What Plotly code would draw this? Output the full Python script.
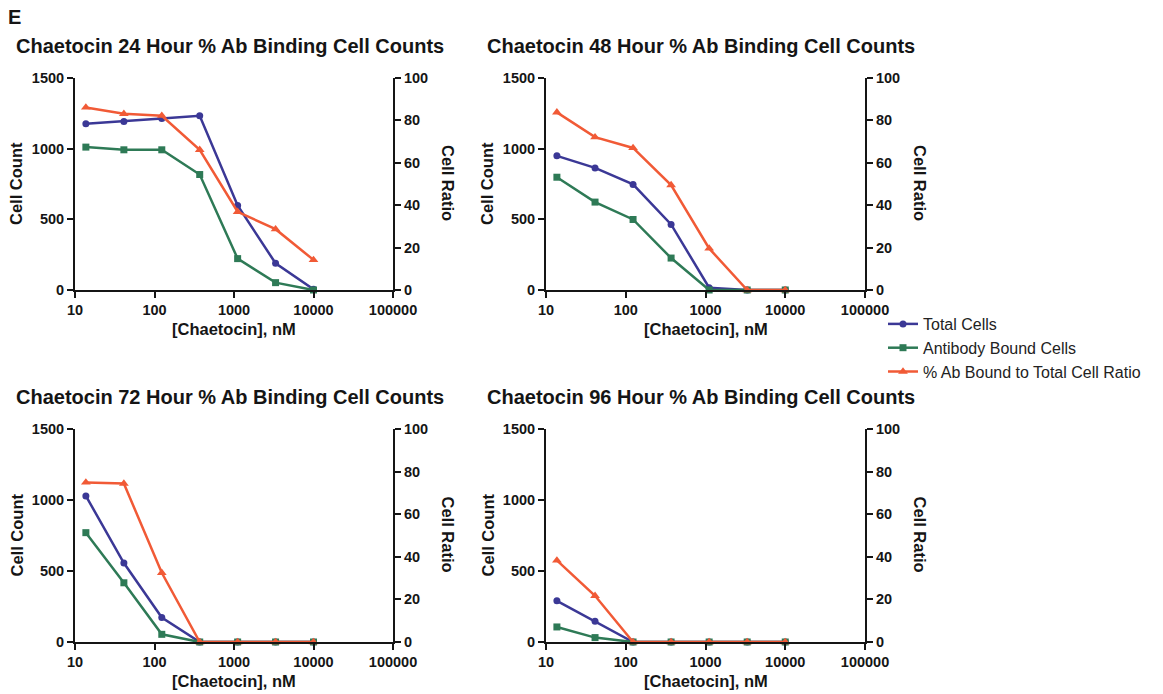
import plotly.graph_objects as go

# Chaetocin concentrations (nM), 3-fold dilution series from 10 µM
conc = [13.7, 41.2, 123.5, 370.4, 1111, 3333, 10000]

# Cell counts and % Ab-bound ratio for each time point
total_24 = [1176, 1193, 1214, 1233, 598, 189, 5]
ab_24 = [1011, 992, 992, 817, 222, 52, 0]
ratio_24 = [86.1, 83.1, 82.2, 66.1, 36.9, 28.7, 14.2]

total_48 = [949, 864, 747, 464, 16, 0, 0]
ab_48 = [798, 622, 499, 226, 0, 0, 0]
ratio_48 = [83.8, 72.1, 67.0, 49.5, 19.6, 0, 0]

total_72 = [1029, 556, 172, 0, 0, 0, 0]
ab_72 = [770, 417, 54, 0, 0, 0, 0]
ratio_72 = [74.9, 74.4, 32.5, 0, 0, 0, 0]

total_96 = [290, 146, 0, 0, 0, 0, 0]
ab_96 = [106, 31, 0, 0, 0, 0, 0]
ratio_96 = [38.3, 21.7, 0, 0, 0, 0, 0]

panel_titles = [
    "Chaetocin 24 Hour % Ab Binding Cell Counts",
    "Chaetocin 48 Hour % Ab Binding Cell Counts",
    "Chaetocin 72 Hour % Ab Binding Cell Counts",
    "Chaetocin 96 Hour % Ab Binding Cell Counts",
]
series_names = ["Total Cells", "Antibody Bound Cells", "% Ab Bound to Total Cell Ratio"]
count_ticks = [0, 500, 1000, 1500]
ratio_ticks = [0, 20, 40, 60, 80, 100]
x_ticks = [10, 100, 1000, 10000, 100000]
x_ticklabels = ["10", "100", "1000", "10000", "100000"]

panels = [
    (total_24, ab_24, ratio_24),
    (total_48, ab_48, ratio_48),
    (total_72, ab_72, ratio_72),
    (total_96, ab_96, ratio_96),
]

W, H = 1163, 694
BLUE = "#3b3896"
GREEN = "#2e7a56"
RED = "#f15a36"
INK = "#151515"
FONT = "Liberation Sans"

# pixel geometry of each plot box: (left, right, top, bottom)
boxes = [
    (75, 393, 78, 290),
    (546, 865, 78, 290),
    (75, 393, 429, 642),
    (546, 865, 429, 642),
]

def px_x(v):
    return v / W

def px_y(v):
    return 1 - v / H

fig = go.Figure()
layout = {}
annotations = []

tick_font = dict(family=FONT, size=14.5, color=INK, weight="bold")
axis_common = dict(
    ticks="outside", ticklen=6, tickwidth=2, tickcolor=INK,
    showline=True, linecolor=INK, linewidth=2,
    showgrid=False, zeroline=False, tickfont=tick_font, automargin=False,
)

for i, (box, (tot, ab, rat)) in enumerate(zip(boxes, panels)):
    l, r, t, b = box
    xa = "x" if i == 0 else f"x{i + 1}"
    ya = f"y{2 * i + 1}" if i > 0 else "y"
    yb = f"y{2 * i + 2}"
    xkey = "xaxis" if i == 0 else f"xaxis{i + 1}"
    ykey = "yaxis" if i == 0 else f"yaxis{2 * i + 1}"
    y2key = f"yaxis{2 * i + 2}"

    layout[xkey] = dict(
        domain=[px_x(l), px_x(r)], anchor=ya, type="log", range=[1, 5],
        tickvals=x_ticks, ticktext=x_ticklabels, **axis_common,
    )
    layout[ykey] = dict(
        domain=[px_y(b), px_y(t)], anchor=xa, range=[0, 1500],
        tickvals=count_ticks, **axis_common,
    )
    layout[y2key] = dict(
        overlaying=ya, anchor=xa, side="right", range=[0, 100],
        tickvals=ratio_ticks, **axis_common,
    )

    show = i == 0
    fig.add_trace(go.Scatter(
        x=conc, y=tot, xaxis=xa, yaxis=ya, mode="lines+markers",
        name=series_names[0], legendgroup="t", showlegend=show,
        line=dict(color=BLUE, width=2.5), marker=dict(symbol="circle", size=7, color=BLUE),
        cliponaxis=False,
    ))
    fig.add_trace(go.Scatter(
        x=conc, y=ab, xaxis=xa, yaxis=ya, mode="lines+markers",
        name=series_names[1], legendgroup="a", showlegend=show,
        line=dict(color=GREEN, width=2.5), marker=dict(symbol="square", size=7, color=GREEN),
        cliponaxis=False,
    ))
    fig.add_trace(go.Scatter(
        x=conc, y=rat, xaxis=xa, yaxis=yb, mode="lines+markers",
        name=series_names[2], legendgroup="r", showlegend=show,
        line=dict(color=RED, width=2.5), marker=dict(symbol="triangle-up", size=8.5, color=RED),
        cliponaxis=False,
    ))

    # panel title
    annotations.append(dict(
        text=panel_titles[i], xref="paper", yref="paper",
        x=px_x(l - 61), y=px_y(t - 32), xanchor="left", yanchor="middle",
        showarrow=False, font=dict(family=FONT, size=20, color=INK, weight="bold"),
    ))
    # left axis title
    annotations.append(dict(
        text="Cell Count", xref="paper", yref="paper",
        x=px_x(l - 59), y=px_y((t + b) / 2), xanchor="center", yanchor="middle",
        textangle=-90, showarrow=False,
        font=dict(family=FONT, size=16.5, color=INK, weight="bold"),
    ))
    # right axis title
    annotations.append(dict(
        text="Cell Ratio", xref="paper", yref="paper",
        x=px_x(r + 55), y=px_y((t + b) / 2 - 1), xanchor="center", yanchor="middle",
        textangle=90, showarrow=False,
        font=dict(family=FONT, size=16.5, color=INK, weight="bold"),
    ))
    # x axis title
    annotations.append(dict(
        text="[Chaetocin], nM", xref="paper", yref="paper",
        x=px_x((l + r) / 2), y=px_y(b + 39), xanchor="center", yanchor="middle",
        showarrow=False, font=dict(family=FONT, size=16.5, color=INK, weight="bold"),
    ))

annotations.append(dict(
    text="E", xref="paper", yref="paper", x=px_x(6), y=px_y(17),
    xanchor="left", yanchor="middle", showarrow=False,
    font=dict(family=FONT, size=20, color=INK, weight="bold"),
))

fig.update_layout(
    **layout,
    template="none",
    annotations=annotations,
    width=W, height=H,
    margin=dict(l=0, r=0, t=0, b=0, autoexpand=False),
    paper_bgcolor="white", plot_bgcolor="white",
    font=dict(family=FONT, color=INK),
    showlegend=True,
    legend=dict(
        x=px_x(883), y=px_y(307), xanchor="left", yanchor="top",
        font=dict(family=FONT, size=16, color="#222222"),
        bgcolor="rgba(0,0,0,0)", tracegroupgap=0, itemwidth=30,
    ),
)

fig.write_html("out.html")
